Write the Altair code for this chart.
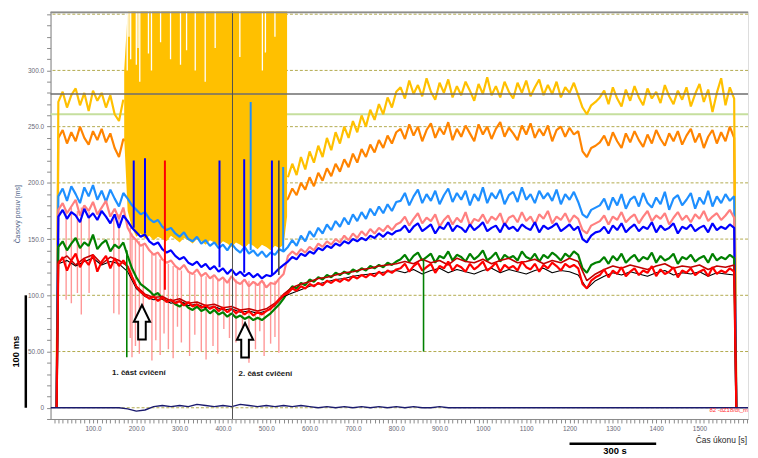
import altair as alt
import pandas as pd

# ---------------- time grids ----------------
t_main = [16] + list(range(20, 1581, 10)) + [1585]
t_coarse = [16] + list(range(20, 1581, 20)) + [1585]
t_navy = [2] + list(range(20, 1581, 20)) + [1612]
t_yellow_1 = [16] + list(range(20, 171, 10))
t_yellow_2 = list(range(550, 1581, 10)) + [1585]

# ---------------- series values (ms) ----------------
yellow_1 = [0, 272, 281, 267, 278, 284, 269, 280, 264, 282, 273, 280, 267, 278, 261, 255, 274]
yellow_2 = [205, 217, 207, 223, 212, 228, 218, 233, 223, 240, 229, 245, 235, 250, 240, 255, 245, 260, 250, 265, 256, 270, 261, 276, 267, 281,
            285, 275, 291, 279, 287, 277, 293, 281, 274, 289, 280, 292, 276, 286, 278, 290, 282, 273, 288, 279, 294, 278, 286, 276, 290, 281, 275, 289, 280, 291, 277, 285, 292, 278, 287, 279, 290, 276, 285, 280, 289, 278,
            267, 261, 269, 272,
            276, 282, 270, 285, 275, 268, 283, 273, 286, 276, 269, 284, 275, 281, 271, 287, 277, 270, 282, 274, 285, 268, 279, 288, 272, 283, 263, 280, 293, 269, 285, 275, 0]

band_t = [172] + list(range(180, 541, 10)) + [548]
band_lo = [240, 175, 160, 152, 155, 150, 153, 149, 152, 150, 148, 153, 150, 147, 151, 149, 146, 150, 148, 145,
           149, 147, 144, 148, 146, 143, 147, 145, 142, 146, 144, 141, 145, 143, 140, 144, 142, 145, 170]
band_hi = [300, 352, 360, 360, 360, 360, 360, 360, 360, 360, 360, 360, 360, 360, 360, 360, 360, 360, 360, 360,
           360, 360, 360, 360, 360, 360, 360, 360, 360, 360, 360, 360, 360, 360, 360, 360, 360, 360, 355]
gap_t = [179, 183, 187, 200, 204, 208, 228, 235, 256, 279, 302, 316, 336, 359, 382, 439, 491, 498, 520]
gap_lo = [300, 330, 310, 305, 320, 290, 315, 300, 325, 310, 305, 318, 300, 290, 320, 312, 300, 316, 330]
gap_hi = [353] * 19

orange = [0,
          240, 247, 235, 245, 237, 250, 240, 234, 246, 238, 248, 236, 244, 231, 223, 239,
          236, 230, 234, 226, 229, 222, 225, 219, 222, 216, 219, 213, 216, 210, 213, 207, 210, 204, 207, 201, 204, 198, 201, 195, 198, 192, 195, 189, 192, 186, 189, 184, 187, 182, 185, 180, 183,
          186, 195, 189, 200, 194, 205, 197, 209, 202, 213, 206, 217, 210, 221, 214, 226, 218, 230, 223, 234, 227, 238, 231, 242, 235, 245,
          248, 239, 252, 242, 250, 237, 247, 253, 240, 249, 243, 254, 238, 248, 241, 251, 244, 237, 252, 243, 250, 239, 248, 254, 241, 249, 244, 238, 251, 243, 253, 240, 248, 242, 251, 237, 247, 250, 241, 249, 243, 246,
          228, 223, 231, 233,
          236, 242, 233, 245, 237, 231, 244, 236, 246, 238, 232, 243, 235, 247, 239, 233, 244, 237, 246, 234, 242, 248, 236, 244, 231, 241, 247, 235, 245, 237, 250, 240,
          0]

light_blue = [0,
              188, 195, 184, 197, 190, 182, 196, 188, 198, 185, 193, 183, 194, 186, 179, 191,
              186, 180, 176, 172, 174, 168, 165, 167, 161, 158, 160, 155, 152, 156, 150, 148, 152, 146, 149, 144, 147, 142, 145, 140, 146, 141, 138, 143, 137, 140, 135, 139, 134, 138, 136, 141, 139,
              143, 149, 144, 153, 148, 157, 152, 160, 155, 163, 158, 166, 161, 169, 163, 172, 166, 174, 168, 177, 171, 179, 173, 181, 175, 183,
              184, 191, 180, 188, 194, 182, 190, 184, 193, 181, 189, 195, 183, 191, 185, 193, 180, 190, 184, 196, 182, 191, 186, 194, 181, 189, 192, 183, 196, 185, 190, 182, 193, 186, 191, 184, 194, 181, 190, 185, 192, 183,
              172, 169, 176, 178,
              180, 186, 176, 187, 180, 190, 177, 185, 188, 179, 191, 182, 178, 187, 181, 192, 176, 186, 189, 180, 185, 191, 177, 187, 181, 193, 179, 188, 182, 190, 184, 188,
              0]

pink = [0,
        176, 182, 173, 179, 185, 171, 180, 175, 183, 172, 178, 184, 170, 177, 168, 178,
        160, 153, 149, 144, 146, 140, 136, 138, 132, 129, 131, 126, 123, 127, 121, 119, 123, 117, 120, 115, 118, 113, 116, 111, 117, 112, 110, 114, 108, 112, 109, 113, 107, 111, 110, 115, 119,
        135, 139, 136, 141, 138, 143, 140, 146, 143, 148, 145, 150, 147, 153, 149, 155, 151, 157, 153, 159, 155, 160, 157, 162, 158, 163,
        165, 170, 162, 168, 173, 164, 169, 166, 172, 161, 167, 171, 163, 169, 165, 174, 162, 168, 166, 172, 164, 170, 167, 173, 162, 169, 171, 165, 174, 166, 170, 163, 172, 168, 175, 164, 170, 167, 173, 165, 171, 168,
        158, 155, 162, 164,
        166, 171, 163, 170, 167, 174, 165, 169, 172, 164, 170, 175, 166, 171, 168, 173, 163, 169, 174, 167, 171, 165, 172, 168, 175, 166, 170, 173, 167, 171, 176, 169,
        0]

blue = [0,
        170, 176, 168, 174, 171, 165, 177, 169, 173, 167, 175, 170, 164, 172, 160, 171,
        166, 160, 156, 152, 154, 148, 145, 147, 141, 138, 140, 135, 132, 134, 129, 127, 130, 125, 128, 123, 126, 121, 124, 119, 123, 118, 121, 117, 120, 116, 119, 115, 118, 117, 120, 124, 127,
        130, 134, 132, 137, 135, 139, 137, 142, 140, 144, 142, 146, 144, 148, 146, 150, 148, 151, 149, 153, 151, 155, 152, 156, 154, 157,
        158, 162, 156, 161, 164, 157, 160, 163, 155, 161, 159, 165, 157, 162, 160, 156, 163, 158, 161, 165, 157, 160, 162, 156, 164, 159, 161, 157, 163, 160, 158, 165, 156, 162, 159, 161, 164, 157, 160, 163, 158, 161,
        150, 147, 153, 156,
        157, 161, 155, 162, 158, 164, 156, 160, 163, 157, 161, 159, 165, 156, 162, 158, 160, 164, 155, 161, 159, 163, 157, 160, 162, 156, 164, 158, 161, 159, 163, 160,
        0]

green = [0,
         143, 148, 140, 146, 151, 142, 147, 144, 154, 141, 146, 149, 139, 145, 142, 147,
         135, 124, 116, 110, 107, 104, 100, 102, 97, 95, 96, 92, 90, 93, 89, 87, 90, 86, 88, 84, 87, 83, 85, 81, 84, 80, 82, 79, 81, 78, 80, 78, 81, 84, 88, 92, 97,
         103, 108, 106, 111, 109, 114, 112, 116, 114, 118, 116, 120, 118, 121, 119, 123, 121, 124, 122, 126, 124, 127, 125, 129, 127, 130,
         132, 136, 130, 135, 138, 131, 134, 137, 129, 135, 133, 139, 131, 136, 134, 130, 137, 132, 135, 140, 131, 134, 138, 130, 136, 133, 135, 131, 139, 134, 132, 137, 130, 136, 133, 138, 135, 131, 137, 134, 139, 136,
         124, 120, 127, 129,
         130, 134, 128, 135, 131, 137, 129, 133, 136, 130, 134, 132, 138, 129, 135, 131, 133, 137, 128, 134, 132, 136, 130, 133, 135, 129, 137, 131, 134, 132, 136, 133,
         0]

red = [0,
       128, 134, 122, 131, 137, 125, 132, 127, 136, 121, 130, 135, 124, 133, 126, 131,
       125, 116, 108, 103, 100, 97, 99, 95, 98, 94, 96, 93, 95, 91, 94, 90, 92, 89, 91, 88, 90, 86, 89, 85, 88, 84, 87, 83, 86, 82, 85, 83, 86, 88, 92, 96, 100,
       102, 106, 104, 108, 106, 110, 108, 111, 109, 113, 111, 114, 112, 115, 113, 117, 115, 118, 116, 119, 117, 121, 118, 122, 120, 123,
       124, 128, 121, 126, 129, 122, 125, 128, 120, 126, 124, 130, 122, 127, 125, 121, 128, 123, 126, 130, 122, 125, 129, 121, 127, 124, 126, 122, 130, 125, 123, 128, 121, 127, 124, 129, 126, 122, 128, 125, 127, 124,
       110, 106, 113, 116,
       118, 123, 116, 122, 119, 125, 117, 121, 124, 118, 122, 120, 126, 117, 123, 119, 121, 125, 116, 122, 120, 124, 118, 121, 123, 117, 125, 119, 122, 120, 124, 121,
       0]

dark_red = [0,
            130, 135, 127, 133, 136, 128, 134, 131,
            126, 108, 101, 98, 99, 95, 97, 93, 94, 91, 92, 89, 90, 87, 88, 86, 88, 93, 101,
            107, 110, 112, 115, 116, 118, 120, 121, 123, 124, 126, 127, 128,
            130, 128, 132, 129, 131, 127, 133, 130, 129, 132, 128, 131, 133, 129, 130, 132, 128, 131, 129, 133, 130,
            113, 119,
            123, 126, 124, 127, 125, 123, 126, 128, 124, 126, 125, 127, 123, 126, 125, 127,
            0]

black = [0,
         128, 131, 126, 130, 133, 127, 130, 128,
         121, 106, 99, 96, 97, 93, 95, 91, 92, 89, 90, 87, 88, 85, 86, 84, 86, 91, 99,
         102, 105, 108, 110, 112, 114, 115, 117, 118, 119, 120, 121, 122,
         120, 123, 119, 122, 124, 120, 123, 121, 119, 122, 124, 120, 123, 121, 119, 122, 124, 120, 122, 121, 118,
         106, 113,
         117, 120, 118, 121, 119, 117, 120, 122, 118, 120, 119, 121, 117, 120, 119, 118,
         0]

navy = [0,
        0, 0, 0, 0, 0, 0, 0, 0,
        -1, -3, -2, 1, 2, 1, 2, 1, 3, 2, 1, 2, 1, 3, 2, 1, 2, 1, 2,
        1, 2, 1, 0, 1, 0, 1, 0, 1, 0, 1, 0, 1,
        0, 1, 0, 0, 1, 0, 0, 0, 0, 0, 0, 0, 0, 0, 0, 0, 0, 0, 0, 0, 0,
        0, 0,
        0, 0, 0, 0, 0, 0, 0, 0, 0, 0, 0, 0, 0, 0, 0, 0,
        0]

# spikes (time, low, high)
pink_spike_t = [38, 50, 64, 73, 91, 148, 160, 186, 190, 198, 207, 216, 236, 245, 255, 264, 274, 285, 295, 304, 323, 335, 350, 361,
                377, 388, 402, 415, 430, 445, 460, 475, 485, 495, 510, 520, 529]
pink_spike_lo = [96, 93, 102, 83, 102, 84, 83, 62, 45, 55, 48, 70, 42, 60, 47, 66, 52, 44, 72, 58, 46, 65, 50, 43,
                 55, 48, 70, 62, 58, 45, 40, 52, 68, 46, 57, 63, 49]
pink_spike_hi = [176, 178, 175, 178, 174, 170, 172, 160, 155, 150, 148, 145, 138, 136, 132, 130, 128, 126, 124, 122, 120, 119, 118, 117,
                 116, 115, 115, 114, 114, 113, 113, 112, 112, 112, 112, 113, 114]
blue_spike_t = [194, 220, 392, 449, 513]
blue_spike_lo = [160, 155, 125, 120, 118]
blue_spike_hi = [220, 222, 220, 221, 220]
red_spike_t = [266]
red_spike_lo = [105]
red_spike_hi = [220]
lb_spike_t = [464, 539]
lb_spike_lo = [140, 140]
lb_spike_hi = [272, 214]
black_spike_t = [529]
black_spike_lo = [118]
black_spike_hi = [220]
green_spike_t = [178, 863]
green_spike_lo = [45, 50]
green_spike_hi = [140, 132]

grid_levels = [0, 50, 100, 150, 200, 250, 300, 350]
limit_gray = [279]
limit_green = [261]
marker_t = [422]
scale_ms = [0, 100]
scale_s = [1200, 1400]

arrow_t = [213, 451]
arrow_v = [76, 60]
phase_t = [206, 498]
phase_v = [31, 30]
phase_labels = ["1. část cvičení", "2. část cvičení"]

x_ticks = list(range(10, 1611, 10))
y_ticks = list(range(-10, 351, 10))

# ---------------- helpers ----------------
def frame(t, v, v2=None):
    n = min(len(t), len(v)) if v2 is None else min(len(t), len(v), len(v2))
    d = {"t": t[:n], "v": v[:n]}
    if v2 is not None:
        d["v2"] = v2[:n]
    return pd.DataFrame(d)

FONT = "Liberation Sans"
xs = alt.Scale(domain=[2, 1612], nice=False, zero=False)
ys = alt.Scale(domain=[-10, 352.5], nice=False, zero=False)
x_axis = alt.Axis(values=x_ticks, title=None, grid=False, tickSize=4, tickColor="#8a8a8a",
                  domainColor="#8a8a8a", labelColor="#6a6a78", labelFontSize=6.5, labelFont=FONT,
                  labelPadding=3, labelFlush=False, labelOverlap=False, labelBound=False,
                  labelExpr="datum.value % 100 == 0 && datum.value <= 1500 ? format(datum.value, '.4r') : ''")
y_axis = alt.Axis(values=y_ticks, title=None, grid=False, tickSize=4, tickColor="#8a8a8a",
                  domainColor="#8a8a8a", labelColor="#6a6a78", labelFontSize=6.5, labelFont=FONT,
                  labelPadding=3, labelFlush=False, labelOverlap=False, labelBound=False,
                  labelExpr="datum.value % 50 == 0 && datum.value >= 0 && datum.value <= 300 ? format(datum.value, '.4r') : ''")
X = alt.X("t:Q", scale=xs, axis=x_axis)
Y = alt.Y("v:Q", scale=ys, axis=y_axis)
Y2 = alt.Y2("v2:Q")
LW = 2.2


def line(df, color, width=LW, opacity=1.0):
    return alt.Chart(df).mark_line(color=color, strokeWidth=width, opacity=opacity, clip=True,
                                   strokeJoin="bevel").encode(x=X, y=Y)


def spikes(t, lo, hi, color, width=1.6, opacity=1.0):
    return alt.Chart(frame(t, lo, hi)).mark_rule(color=color, strokeWidth=width, opacity=opacity, clip=True).encode(
        x=X, y=Y, y2=Y2)


def hrule(levels, color, width, dash=None):
    kw = dict(color=color, strokeWidth=width)
    if dash:
        kw["strokeDash"] = dash
    return alt.Chart(pd.DataFrame({"v": levels})).mark_rule(**kw).encode(y=Y)


layers = []
layers.append(hrule(grid_levels, "#b2aa4e", 1, [3, 2]))
layers.append(hrule(limit_green, "#c6df9e", 2))
layers.append(line(frame(t_main, orange), "#ff8400"))
layers.append(alt.Chart(frame(band_t, band_lo, band_hi)).mark_area(color="#ffc000", opacity=1, clip=True)
              .encode(x=X, y=Y, y2=Y2))
layers.append(spikes(gap_t, gap_lo, gap_hi, "#ffffff", 1.3))
ydf = pd.concat([frame(t_yellow_1, yellow_1).assign(part=1), frame(t_yellow_2, yellow_2).assign(part=2)])
layers.append(alt.Chart(ydf).mark_line(color="#ffc000", strokeWidth=LW, clip=True, strokeJoin="bevel")
              .encode(x=X, y=Y, detail="part:N"))
layers.append(spikes(pink_spike_t, pink_spike_lo, pink_spike_hi, "#ff8c8c", 1.4, 0.9))
layers.append(line(frame(t_main, light_blue), "#1e8fff"))
layers.append(line(frame(t_main, pink), "#ff8080"))
layers.append(line(frame(t_main, blue), "#0000ff"))
layers.append(line(frame(t_main, green), "#008000"))
layers.append(line(frame(t_coarse, black), "#000000", 1.1))
layers.append(line(frame(t_coarse, dark_red), "#c00000", 1.6))
layers.append(line(frame(t_main, red), "#ff0000"))
layers.append(spikes(blue_spike_t, blue_spike_lo, blue_spike_hi, "#0000ff", 2))
layers.append(spikes(red_spike_t, red_spike_lo, red_spike_hi, "#ff0000", 2))
layers.append(spikes(lb_spike_t, lb_spike_lo, lb_spike_hi, "#1e8fff", 2))
layers.append(spikes(black_spike_t, black_spike_lo, black_spike_hi, "#404040", 1.5))
layers.append(spikes(green_spike_t, green_spike_lo, green_spike_hi, "#008000", 1.6))
layers.append(line(frame(t_navy, navy), "#1a1a6e", 1.4))
layers.append(hrule(limit_gray, "#6e6e6e", 1.5))
layers.append(alt.Chart(pd.DataFrame({"t": marker_t})).mark_rule(color="#505050", strokeWidth=1).encode(x=X))
# top frame line
layers.append(alt.Chart(pd.DataFrame({"t": [0]})).mark_rule(color="#8c8c8c", strokeWidth=2).encode(
    x=alt.value(0), x2=alt.value(705), y=alt.value(1)))

# arrows
ARROW = "M0,-1L0.47,-0.03L0.22,-0.03L0.22,1L-0.22,1L-0.22,-0.03L-0.47,-0.03Z"
layers.append(alt.Chart(frame(arrow_t, arrow_v)).mark_point(shape=ARROW, size=1225, filled=True, fill="white",
                                                             stroke="black", strokeWidth=2, opacity=1)
              .encode(x=X, y=Y))
layers.append(alt.Chart(pd.DataFrame({"t": phase_t, "v": phase_v, "label": phase_labels}))
              .mark_text(font=FONT, fontSize=8, fontWeight="bold", color="#1a1a1a")
              .encode(x=X, y=Y, text="label:N"))

# scale bars
layers.append(alt.Chart(pd.DataFrame({"v": [scale_ms[0]], "v2": [scale_ms[1]]})).mark_rule(color="black", strokeWidth=2.5)
              .encode(x=alt.value(-25), y=Y, y2=Y2))
layers.append(alt.Chart(pd.DataFrame({"t": [scale_s[0]], "t2": [scale_s[1]]})).mark_rule(color="black", strokeWidth=2.5)
              .encode(x=X, x2=alt.X2("t2:Q"), y=alt.value(437)))

# texts
def note(text, x, y, size, color, weight="normal", angle=0, align="center"):
    return alt.Chart(pd.DataFrame({"label": [text]})).mark_text(
        font=FONT, fontSize=size, color=color, fontWeight=weight, angle=angle, align=align, baseline="middle"
    ).encode(x=alt.value(x), y=alt.value(y), text="label:N")

layers.append(note("Časový posuv [ms]", -33, 205, 7, "#4e5f86", angle=270))
layers.append(note("100 ms", -35, 344, 9.5, "black", "bold", angle=270))
layers.append(note("300 s", 570.5, 444.5, 9.5, "black", "bold"))
layers.append(note("Čas úkonu [s]", 704, 433, 8.5, "#2a2a2a", align="right"))
layers.append(note("82 -dZ18/dt_m", 705, 402.5, 6, "#ff3030", align="right"))

chart = alt.layer(*layers).properties(
    width=705, height=412,
    autosize=alt.AutoSizeParams(type="none"),
    padding={"left": 43, "top": 1, "right": 2, "bottom": 37},
).configure_view(stroke=None).configure(font=FONT)

chart.save("out.html", embed_options={"renderer": "svg", "actions": False})
